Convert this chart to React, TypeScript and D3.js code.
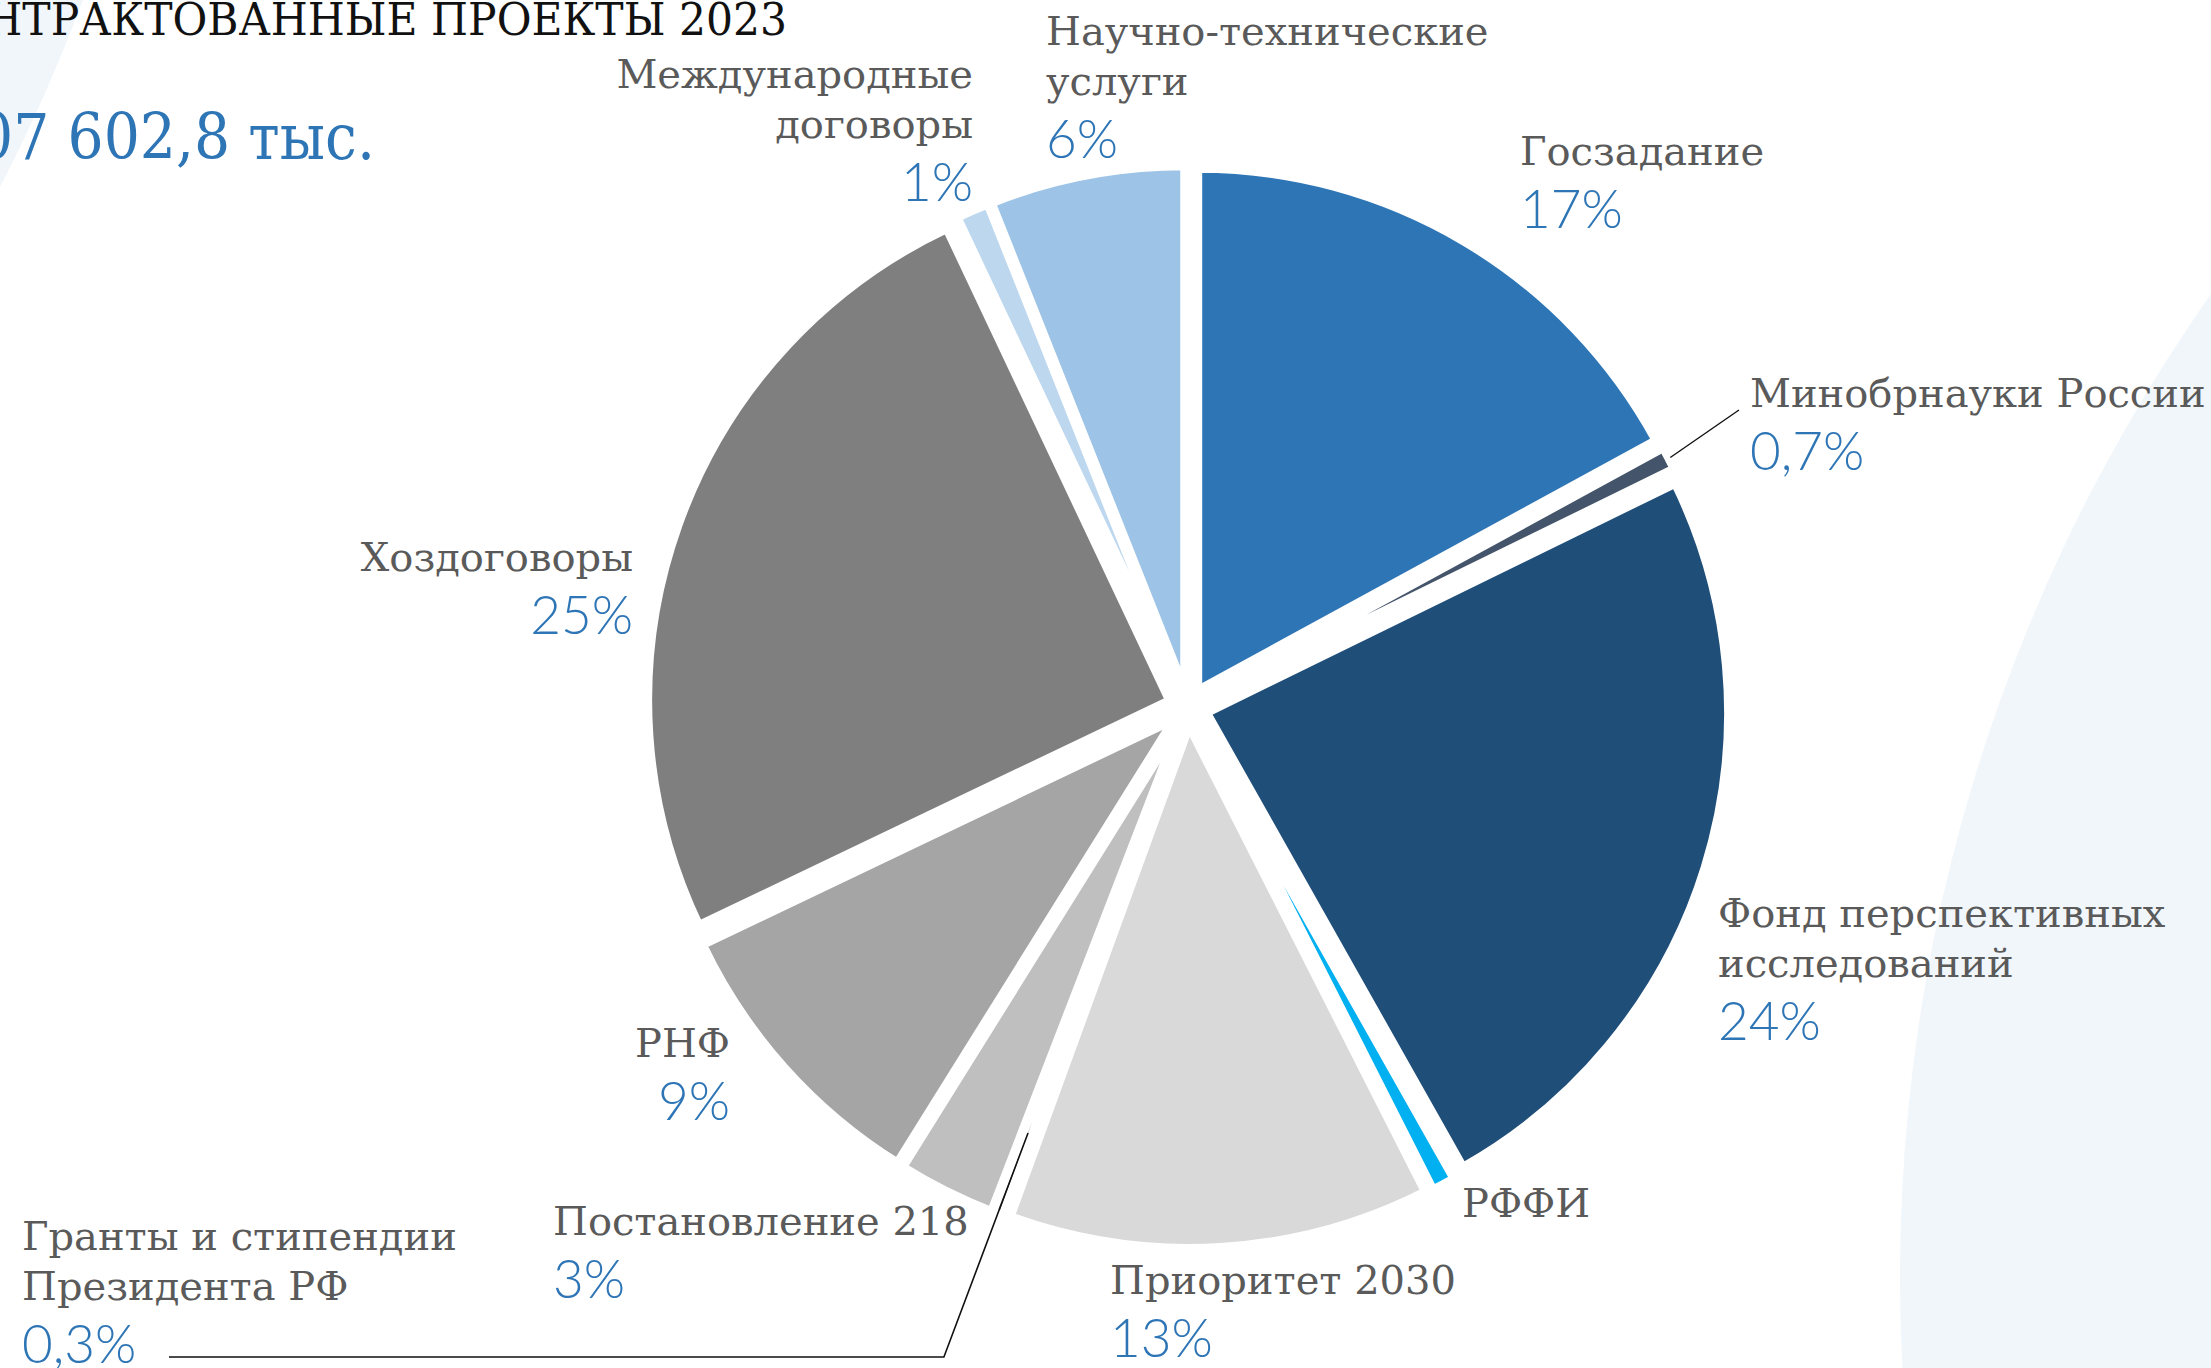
import React from "react";
import * as d3 from "d3";

// ---- data ----
const categories = [
  "Госзадание",
  "Минобрнауки России",
  "Фонд перспективных исследований",
  "РФФИ",
  "Приоритет 2030",
  "Гранты и стипендии Президента РФ",
  "Постановление 218",
  "РНФ",
  "Хоздоговоры",
  "Международные договоры",
  "Научно-технические услуги",
];
const values = [17, 0.7, 24, 0.7, 13, 0.3, 3, 9, 25, 1, 6];
const percentLabels = ["17%", "0,7%", "24%", "", "13%", "0,3%", "3%", "9%", "25%", "1%", "6%"];
const labelLines = [
  ["Госзадание"],
  ["Минобрнауки России"],
  ["Фонд перспективных", "исследований"],
  ["РФФИ"],
  ["Приоритет 2030"],
  ["Гранты и стипендии", "Президента РФ"],
  ["Постановление 218"],
  ["РНФ"],
  ["Хоздоговоры"],
  ["Международные", "договоры"],
  ["Научно-технические", "услуги"],
];
const colors = [
  "#2E75B6", "#44546A", "#1F4E79", "#00B0F0", "#D9D9D9", "#595959",
  "#BFBFBF", "#A5A5A5", "#7F7F7F", "#BDD7EE", "#9DC3E6",
];
const titleText = "ЗАКОНТРАКТОВАННЫЕ ПРОЕКТЫ 2023";
const totalText = "07 602,8 тыс.";

// ---- layout ----
const W = 2211;
const H = 1368;
const CX = 1188;
const CY = 707;
const R = 521;
const EXPLODE = 20;
const GAP_STROKE = 8;
const LINE_H = 50;
const PCT_DY = 63;
const labelPos: [number, number, "start" | "end"][] = [
  [1520, 165, "start"],
  [1750, 407, "start"],
  [1718, 927, "start"],
  [1462, 1217, "start"],
  [1110, 1294, "start"],
  [22, 1250, "start"],
  [553, 1235, "start"],
  [730, 1057, "end"],
  [633, 571, "end"],
  [973, 88, "end"],
  [1046, 45, "start"],
];

const SERIF = "'DejaVu Serif', 'Liberation Serif', serif";
const SANS = "Lato, 'Open Sans', 'Noto Sans', sans-serif";
const LABEL_COLOR = "#5a5a5a";
const BLUE = "#2E75B6";

export default function App() {
  const data = categories.map((c, i) => ({ name: c, value: values[i], i }));
  const pie = d3.pie<any>().sort(null).value((d: any) => d.value).startAngle(0).endAngle(2 * Math.PI);
  const arcs = pie(data);
  const arc = d3.arc<any>().innerRadius(0).outerRadius(R);

  const dirOf = (a: any) => {
    const mid = (a.startAngle + a.endAngle) / 2;
    return [Math.sin(mid), -Math.cos(mid)];
  };

  // leader for Минобрнауки
  const minArc = arcs[1];
  const [mx, my] = dirOf(minArc);
  const minStart = [CX + mx * (R + EXPLODE + 2), CY + my * (R + EXPLODE + 2)];
  const minEnd = [labelPos[1][0] - 11, labelPos[1][1] + 3];

  // leader for Гранты
  const grArc = arcs[5];
  const [gx, gy] = dirOf(grArc);
  const grStart = [CX + gx * 455, CY + gy * 455];
  const grY = labelPos[5][1] + LINE_H + PCT_DY - 6;
  const t = (grY - CY) / gy;
  const grBend = [CX + gx * t, grY];
  const grEnd = [169, grY];

  return (
    <div style={{ position: "absolute", left: 0, top: 0, width: W, height: H, overflow: "hidden", background: "#fff" }}>
      <svg width={W} height={H} viewBox={`0 0 ${W} ${H}`} style={{ display: "block" }}>
        <rect x={0} y={0} width={W} height={H} fill="#ffffff" />
        {/* background decorations */}
        <circle cx={3609} cy={1277} r={1709} fill="#F1F6FB" />
        <circle cx={-1518} cy={-598} r={1709} fill="#F1F6FB" />

        {/* title */}
        <text
          x={-141}
          y={35}
          fontFamily={SERIF}
          fontSize={45}
          fill="#111"
          textLength={928}
          lengthAdjust="spacingAndGlyphs"
        >
          {titleText}
        </text>
        <text
          x={-23}
          y={159}
          fontFamily={SERIF}
          fontSize={63}
          fill={BLUE}
          textLength={398}
          lengthAdjust="spacingAndGlyphs"
        >
          {totalText}
        </text>

        {/* pie */}
        <g transform={`translate(${CX},${CY})`}>
          {arcs.map((a: any, i: number) => {
            const [dx, dy] = dirOf(a);
            return (
              <path
                key={i}
                d={arc(a) as string}
                transform={`translate(${dx * EXPLODE},${dy * EXPLODE})`}
                fill={colors[i]}
                stroke="#ffffff"
                strokeWidth={GAP_STROKE}
                strokeLinejoin="round"
              />
            );
          })}
        </g>

        {/* leader lines */}
        <polyline
          points={`${minStart[0]},${minStart[1]} ${minEnd[0]},${minEnd[1]}`}
          fill="none"
          stroke="#111"
          strokeWidth={1.4}
        />
        <polyline
          points={`${grStart[0]},${grStart[1]} ${grBend[0]},${grBend[1]} ${grEnd[0]},${grEnd[1]}`}
          fill="none"
          stroke="#111"
          strokeWidth={1.6}
        />

        {/* labels */}
        {labelLines.map((lines, i) => {
          const [x, y, anchor] = labelPos[i];
          return (
            <g key={i}>
              {lines.map((ln, j) => (
                <text
                  key={j}
                  x={x}
                  y={y + j * LINE_H}
                  textAnchor={anchor}
                  fontFamily={SERIF}
                  fontSize={40}
                  fill={LABEL_COLOR}
                >
                  {ln}
                </text>
              ))}
              {percentLabels[i] && (
                <text
                  x={x}
                  y={y + (lines.length - 1) * LINE_H + PCT_DY}
                  textAnchor={anchor}
                  fontFamily={SANS}
                  fontWeight={300}
                  fontSize={53}
                  fill={BLUE}
                >
                  {percentLabels[i]}
                </text>
              )}
            </g>
          );
        })}
      </svg>
    </div>
  );
}
